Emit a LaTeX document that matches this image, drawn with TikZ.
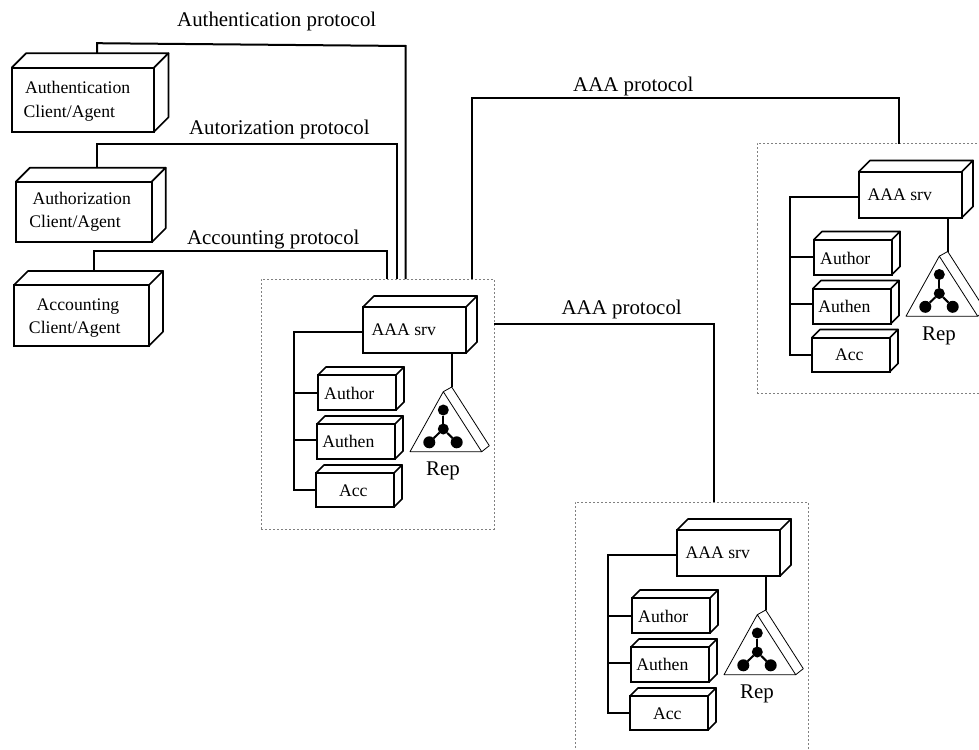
\documentclass[tikz,border=0pt]{standalone}
\usepackage{fontspec}
\setmainfont{Liberation Serif}
\usetikzlibrary{calc}
\tikzset{
  face/.style={draw=black,line width=2pt,line join=miter,inner sep=0pt,outer sep=0pt,rectangle},
  edgeface/.style={draw=black,line width=1.7pt,line join=round,line cap=round},
  conn/.style={draw=black,line width=2pt,line join=miter},
  txtbox/.style={inner sep=0pt,font=\fontsize{17.7}{20}\selectfont},
  txtlab/.style={inner sep=0pt,font=\fontsize{20.9}{24}\selectfont},
  dotbox/.style={draw=black!50,line width=1pt,dash pattern=on 2pt off 2pt,inner sep=0pt,outer sep=0pt,rectangle},
  thin tri/.style={draw=black,line width=0.8pt,line join=round},
  repdot/.style={circle,fill=black,inner sep=0pt,outer sep=0pt,minimum size=#1},
}
\newcommand{\cubebox}[6]{%
  % name, x1, y1, x2, y2, depth
  \pgfmathsetmacro{\cbx}{(#2+#4)/2}\pgfmathsetmacro{\cby}{(#3+#5)/2}%
  \pgfmathsetmacro{\cbw}{#4-#2}\pgfmathsetmacro{\cbh}{#5-#3}%
  \node[face,fill=white,minimum width=\cbw pt,minimum height=\cbh pt] (#1) at (\cbx,\cby) {};
  \draw[edgeface] (#1.north west) -- ++(#6,-#6) -- ($(#1.north east)+(#6,-#6)$) -- (#1.north east);
  \draw[edgeface] ($(#1.north east)+(#6,-#6)$) -- ($(#1.south east)+(#6,-#6)$) -- (#1.south east);
}
\newcommand{\serverunit}[4]{%
  % prefix, dx, dy, dotted box path options
  \begin{scope}[shift={(#2,#3)}]
    \node[dotbox,minimum width=233pt,minimum height=250pt] (#1box) at (377.5,404) {};
    \cubebox{#1srv}{363}{307}{466}{353}{11}
    \node[txtbox] (#1srvt) at (403.7,330) {AAA srv};
    \cubebox{#1author}{318}{375}{396}{410}{8}
    \node[txtbox] (#1authort) at (349.3,393.5) {Author};
    \cubebox{#1authen}{317}{424}{395}{459}{8}
    \node[txtbox] (#1authent) at (348.3,441.5) {Authen};
    \cubebox{#1acc}{316}{473}{394}{507}{8}
    \node[txtbox] (#1acct) at (353.3,490.5) {Acc};
    \coordinate (#1trunk) at (294,332);
    \draw[conn] (#1srv.west |- #1trunk) -- (#1trunk) -- (#1trunk |- #1acc.west) -- (#1acc.west);
    \draw[conn] (#1author.west) -- (#1author.west -| #1trunk);
    \draw[conn] ([yshift=2pt]#1authen.west) -- ([yshift=2pt]#1authen.west -| #1trunk);
    % replication triangle
    \coordinate (#1apex) at (443.3,391.7);
    \coordinate (#1tip) at (451.7,387);
    \coordinate (#1left) at (410,451.7);
    \coordinate (#1right) at (481.7,451.7);
    \coordinate (#1bandr) at (489.3,445.7);
    \draw[thin tri] (#1apex) -- (#1left) -- (#1right) -- cycle;
    \draw[thin tri] (#1apex) -- (#1tip) -- (#1bandr) -- (#1right);
    \draw[conn] (#1srv.south -| #1tip) -- (#1tip);
    \node[repdot=11pt] (#1da) at (443.3,410) {};
    \node[repdot=11pt] (#1db) at (443.3,429) {};
    \node[repdot=12pt] (#1dc) at (429.3,442.3) {};
    \node[repdot=12pt] (#1dd) at (456.7,442.3) {};
    \draw[conn] (#1da) -- (#1db);
    \draw[conn] (#1db) -- (#1dc);
    \draw[conn] (#1db) -- (#1dd);
    \node[txtlab] (#1rep) at (443,471) {Rep};
  \end{scope}
}
\begin{document}
\begin{tikzpicture}[x=1pt,y=-1pt]
\useasboundingbox (0,0) rectangle (979,749);
\clip (0,0) rectangle (979,749);

\serverunit{a}{0}{0}{}
\serverunit{b}{314}{223}{}
\serverunit{c}{496}{-135.5}{}

% client boxes
\cubebox{clauth}{11.7}{67.7}{154}{131.7}{14.5}
\node[txtbox] (clautha) at (77.7,87.5) {Authentication};
\node[txtbox] (clauthb) at (69.3,113.5) {Client/Agent};
\cubebox{clautz}{16}{181.7}{151.7}{242.3}{14}
\node[txtbox] (clautza) at (81.7,198.5) {Authorization};
\node[txtbox] (clautzb) at (75,223) {Client/Agent};
\cubebox{clacc}{14}{285}{149}{345.7}{14}
\node[txtbox] (clacca) at (78,306.5) {Accounting};
\node[txtbox] (claccb) at (74.7,329.5) {Client/Agent};

% protocol connectors
\coordinate (j1) at (405.7,46);
\coordinate (j2) at (396.7,144);
\coordinate (j3) at (386.7,250.7);
\coordinate (j4) at (472,97.7);
\coordinate (j5) at (899,97.7);
\coordinate (j6) at (714,324);
\draw[conn] ($(clauth.north)+(14.2,-14.5)$) -- ++(0,-10) -- (j1) -- (j1 |- abox.north);
\draw[conn] ($(clautz.north)+(13,-14)$) |- (j2) -- (j2 |- abox.north);
\draw[conn] ($(clacc.north)+(12.8,-14)$) |- (j3) -- (j3 |- abox.north);
\draw[conn] (j4 |- abox.north) -- (j4) -- (j5) -- (j5 |- cbox.north);
\draw[conn] (abox.east |- j6) -- (j6) -- (j6 |- bbox.north);

% labels
\node[txtlab] (l1) at (276.7,21) {Authentication protocol};
\node[txtlab] (l2) at (279.3,129.5) {Autorization protocol};
\node[txtlab] (l3) at (273.3,240) {Accounting protocol};
\node[txtlab] (l4) at (633.3,86) {AAA protocol};
\node[txtlab] (l5) at (621.7,309.5) {AAA protocol};
\end{tikzpicture}
\end{document}
